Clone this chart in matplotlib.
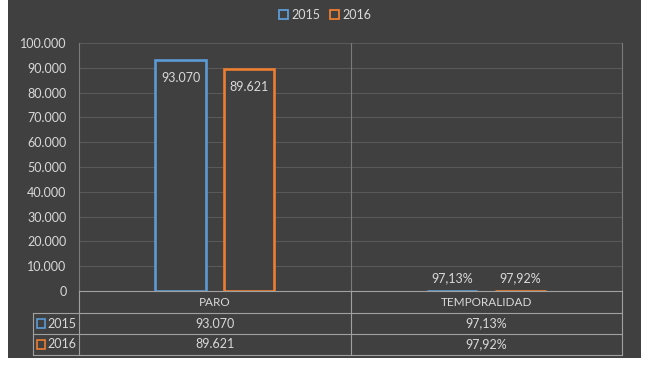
import matplotlib
matplotlib.use("Agg")
import matplotlib.pyplot as plt
from matplotlib.patches import Rectangle, Patch
from matplotlib.lines import Line2D
import matplotlib.transforms as mtransforms

categories = ["PARO", "TEMPORALIDAD"]
series_names = ["2015", "2016"]
values_2015 = [93070, 97.13]
values_2016 = [89621, 97.92]
label_2015 = ["93.070", "97,13%"]
label_2016 = ["89.621", "97,92%"]
yticks = [0, 10000, 20000, 30000, 40000, 50000, 60000, 70000, 80000, 90000, 100000]
ytick_labels = ["0", "10.000", "20.000", "30.000", "40.000", "50.000",
                "60.000", "70.000", "80.000", "90.000", "100.000"]

BG = "#404040"
TXT = "#d9d9d9"
BLUE = "#5b9bd5"
ORANGE = "#ed7d31"
GRID = "#595959"
BORDER = "#7a7a7a"
TLINE = "#a0a0a0"

plt.rcParams['font.family'] = ['Lato', 'DejaVu Sans']

W, H = 650, 365
fig = plt.figure(figsize=(6.5, 3.65), dpi=100)
fig.patch.set_facecolor("white")

def fx(px):
    return px / W

def fy(py):
    return 1 - py / H

fig.add_artist(Rectangle((fx(8), fy(358)), fx(641) - fx(8), fy(0) - fy(358),
                         transform=fig.transFigure, facecolor=BG, edgecolor="none", zorder=0))

ax = fig.add_axes([fx(79), fy(291), fx(622) - fx(79), fy(43) - fy(291)])
ax.set_facecolor(BG)
ax.patch.set_alpha(0)

x = list(range(len(categories)))
width = 0.185
off = 0.126
series = [(values_2015, label_2015, BLUE), (values_2016, label_2016, ORANGE)]
for i, (vals, labs, col) in enumerate(series):
    xs = [xi + (-off if i == 0 else off) for xi in x]
    ax.bar(xs, vals, width=width, facecolor=BG, edgecolor=col, linewidth=1.9, zorder=3)
    for xi, v, lab in zip(xs, vals, labs):
        if v > 50000:
            ax.annotate(lab, (xi, v), xytext=(0, -13), textcoords="offset points",
                        ha="center", va="center", color=TXT, fontsize=9, zorder=4)
        else:
            ax.annotate(lab, (xi, v), xytext=(0, 9), textcoords="offset points",
                        ha="center", va="center", color=TXT, fontsize=9, zorder=4)

ax.set_xlim(-0.5, len(categories) - 0.5)
ax.set_ylim(0, 100000)
ax.set_yticks(yticks)
ax.set_yticklabels(ytick_labels, color=TXT, fontsize=9)
ax.set_xticks([])
ax.tick_params(axis="y", length=0, pad=9)
ax.yaxis.grid(True, color=GRID, linewidth=0.8, zorder=1)
ax.set_axisbelow(True)
for s in ["top", "bottom"]:
    ax.spines[s].set_visible(False)
for s in ["left", "right"]:
    ax.spines[s].set_color(BORDER)
    ax.spines[s].set_linewidth(0.8)
for k in range(1, len(categories)):
    ax.axvline(k - 0.5, color=BORDER, linewidth=0.8, zorder=2)

# legend
handles = [Patch(facecolor="none", edgecolor=BLUE, linewidth=1.3, label=series_names[0]),
           Patch(facecolor="none", edgecolor=ORANGE, linewidth=1.3, label=series_names[1])]
fig.legend(handles=handles, loc="center", bbox_to_anchor=(0.5, fy(15)), ncol=2,
           frameon=False, fontsize=9, handlelength=0.75, handleheight=0.75,
           handletextpad=0.25, columnspacing=0.8, labelcolor=TXT)

# data table
tr = mtransforms.blended_transform_factory(ax.transData, fig.transFigure)
xl = -0.5
xr = len(categories) - 0.5
xrow = -0.5 - 46 / 271.0
y_hdr_top, y_hdr_bot, y_r1, y_r2 = fy(291), fy(313), fy(334), fy(355)

def hline(x0, x1, y):
    fig.add_artist(Line2D([x0, x1], [y, y], transform=tr, color=TLINE, linewidth=0.8))

def vline(xx, y0, y1):
    fig.add_artist(Line2D([xx, xx], [y0, y1], transform=tr, color=TLINE, linewidth=0.8))

hline(xl, xr, y_hdr_top)
hline(xrow, xr, y_hdr_bot)
hline(xrow, xr, y_r1)
hline(xrow, xr, y_r2)
vline(xl, y_hdr_top, y_r2)
vline(xr, y_hdr_top, y_r2)
vline(xrow, y_hdr_bot, y_r2)
for k in range(1, len(categories)):
    vline(k - 0.5, y_hdr_top, y_r2)

for ci, cat in enumerate(categories):
    fig.text(ci, (y_hdr_top + y_hdr_bot) / 2, cat, transform=tr, ha="center", va="center",
             color=TXT, fontsize=8.5)

rows = [(series_names[0], label_2015, BLUE, (y_hdr_bot + y_r1) / 2),
        (series_names[1], label_2016, ORANGE, (y_r1 + y_r2) / 2)]
for name, labs, col, yc in rows:
    for ci, lab in enumerate(labs):
        fig.text(ci, yc, lab, transform=tr, ha="center", va="center", color=TXT, fontsize=9)
    fig.add_artist(Rectangle((fx(37), yc - 4.5 / H), 8 / W, 9 / H, transform=fig.transFigure,
                             facecolor="none", edgecolor=col, linewidth=1.2))
    fig.text(fx(47), yc, name, ha="left", va="center", color=TXT, fontsize=9)

fig.savefig("out.png", dpi=100, facecolor=fig.get_facecolor())
